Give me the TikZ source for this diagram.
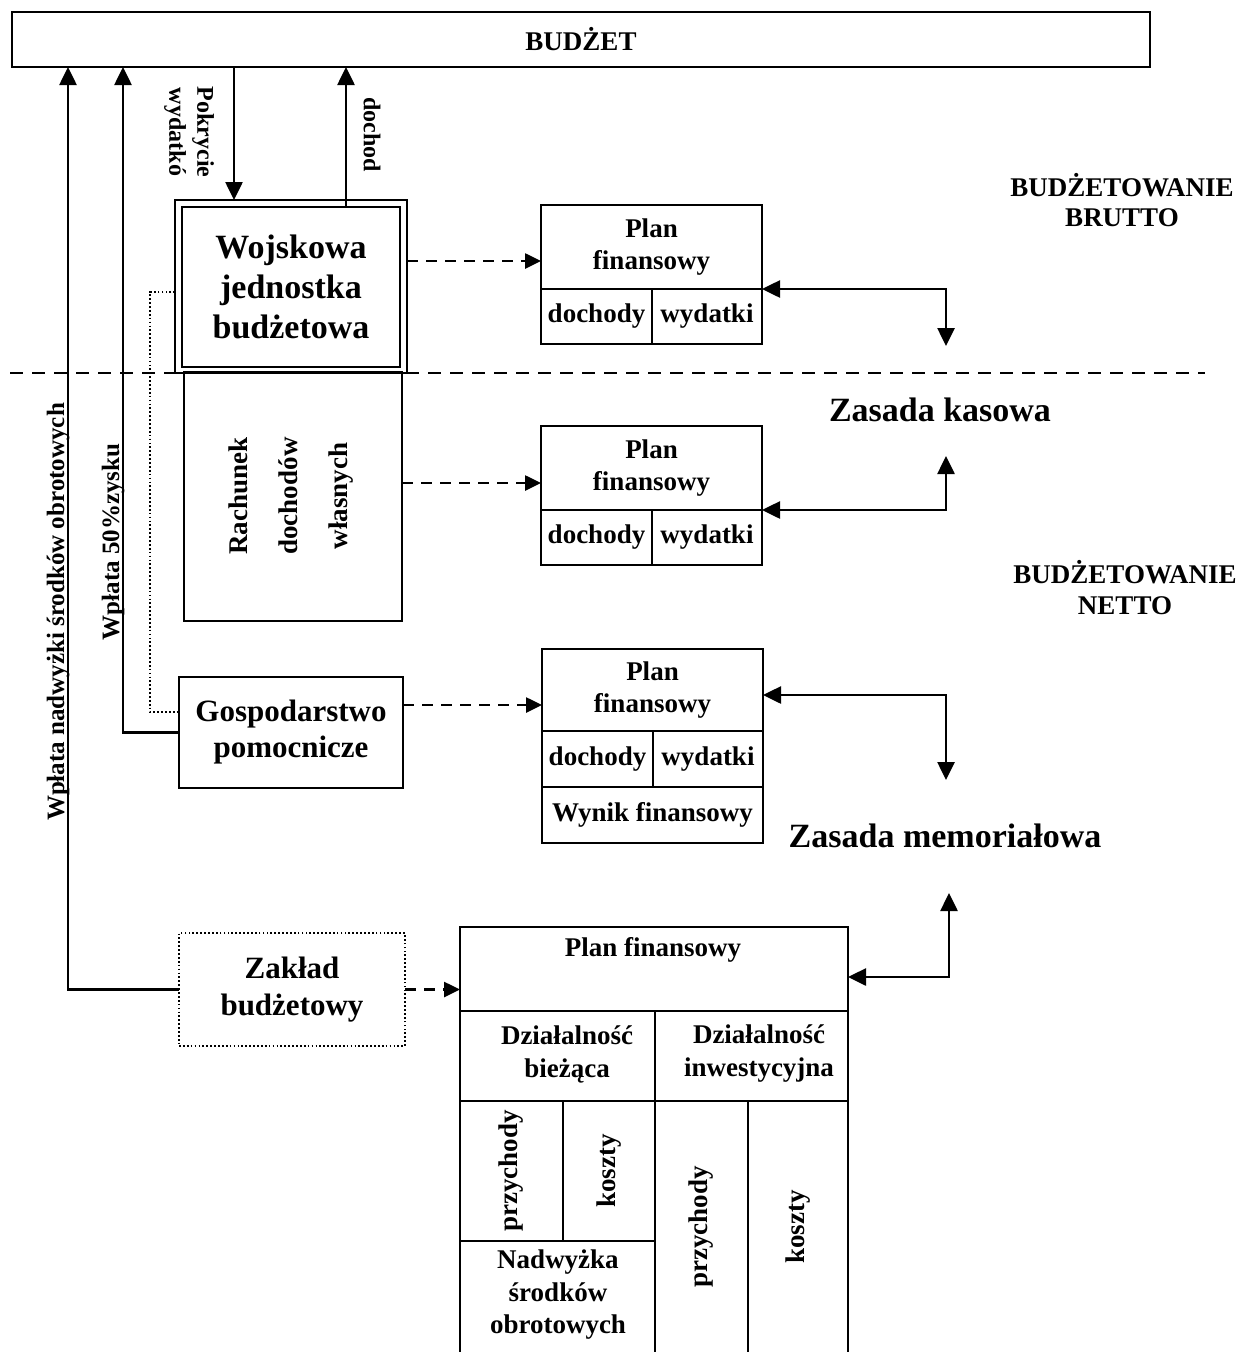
\documentclass[tikz,border=0pt]{standalone}
\usepackage{fontspec}
\setmainfont{Liberation Serif}
\usetikzlibrary{arrows.meta,calc}
\begin{document}
\begin{tikzpicture}[x=1pt,y=-1pt,
  fs/.style n args={2}{font=\bfseries\fontsize{#1}{#2}\selectfont},
  box/.style={draw,line width=2.6pt,inner sep=0pt,outer sep=0pt,align=center,anchor=north west},
  lbl/.style={inner sep=0pt,outer sep=0pt,align=center},
  sarr/.style={line width=2.6pt,-{Triangle[width=17pt,length=18pt]}},
  barr/.style={line width=2.6pt,{Triangle[width=17pt,length=18pt]}-{Triangle[width=17pt,length=18pt]}},
  darr/.style={line width=2.6pt,dash pattern=on 11pt off 8pt,-{Triangle[width=15pt,length=16pt]}},
  dotln/.style={line width=1.7pt,dash pattern=on 1.7pt off 2.2pt}
]
\useasboundingbox (0,0) rectangle (1249,1352);
\clip (0,0) rectangle (1249,1352);

% budget bar
\node[box,fs={27}{32},minimum width=1138pt,minimum height=55pt] (bud) at (12,12) {BUDŻET};

% military budget unit (double frame)
\node[box,minimum width=232pt,minimum height=173pt] (wj) at (175,200) {};
\node[box,fs={34}{40},minimum width=218pt,minimum height=160pt] (wji) at (182,207) {Wojskowa\\jednostka\\budżetowa};

% own income account
\node[box,minimum width=218pt,minimum height=249pt] (rdw) at (184,372) {};
\node[lbl,fs={27}{50},rotate=90] (rdwt) at (291,496) {Rachunek\\dochodów\\własnych};

% auxiliary holding
\node[box,fs={31}{36},minimum width=224pt,minimum height=111pt] (gp) at (179,677) {Gospodarstwo\\pomocnicze};

% budget establishment
\node[box,dotln,fs={31}{37},minimum width=226pt,minimum height=113pt] (zk) at (179,933) {Zakład\\budżetowy};

% financial plans
\node[box,fs={27}{32},minimum width=221pt,minimum height=84pt] (p1t) at (541,205) {Plan\\finansowy};
\node[box,fs={27}{32},minimum width=111pt,minimum height=55pt] (p1a) at (541,289) {dochody};
\node[box,fs={27}{32},minimum width=110pt,minimum height=55pt] (p1b) at (652,289) {wydatki};

\node[box,fs={27}{32},minimum width=221pt,minimum height=84pt] (p2t) at (541,426) {Plan\\finansowy};
\node[box,fs={27}{32},minimum width=111pt,minimum height=55pt] (p2a) at (541,510) {dochody};
\node[box,fs={27}{32},minimum width=110pt,minimum height=55pt] (p2b) at (652,510) {wydatki};

\node[box,fs={27}{32},minimum width=221pt,minimum height=82pt] (p3t) at (542,649) {Plan\\finansowy};
\node[box,fs={27}{32},minimum width=111pt,minimum height=56pt] (p3a) at (542,731) {dochody};
\node[box,fs={27}{32},minimum width=110pt,minimum height=56pt] (p3b) at (653,731) {wydatki};
\node[box,fs={27}{32},minimum width=221pt,minimum height=56pt] (p3c) at (542,787) {Wynik finansowy};

\node[box,minimum width=388pt,minimum height=84pt] (p4t) at (460,927) {};
\node[lbl,fs={27}{32}] (p4tt) at (653,950) {Plan finansowy};
\node[box,minimum width=195pt,minimum height=90pt] (p4l) at (460,1011) {};
\node[box,minimum width=193pt,minimum height=90pt] (p4r) at (655,1011) {};
\node[lbl,fs={27}{33}] (p4lt) at (567,1054) {Działalność\\bieżąca};
\node[lbl,fs={27}{33}] (p4rt) at (759,1054) {Działalność\\inwestycyjna};
\node[box,minimum width=103pt,minimum height=140pt] (p4la) at (460,1101) {};
\node[box,minimum width=92pt,minimum height=140pt] (p4lb) at (563,1101) {};
\node[box,minimum width=195pt,minimum height=130pt] (p4lc) at (460,1241) {};
\node[box,minimum width=93pt,minimum height=270pt] (p4ra) at (655,1101) {};
\node[box,minimum width=100pt,minimum height=270pt] (p4rb) at (748,1101) {};
\node[lbl,fs={27}{32},rotate=90] (t1) at (p4la.center) {przychody};
\node[lbl,fs={27}{32},rotate=90] (t2) at (p4lb.center) {koszty};
\node[lbl,fs={27}{32},rotate=90] (t3) at (701,1227) {przychody};
\node[lbl,fs={27}{32},rotate=90] (t4) at (798,1227) {koszty};
\node[lbl,fs={27}{32.5}] (t5) at (558,1295) {Nadwyżka\\środków\\obrotowych};

% section labels
\node[lbl,fs={27}{30}] (brutto) at (1122,200) {BUDŻETOWANIE\\BRUTTO};
\node[lbl,fs={27}{31}] (netto) at (1125,588) {BUDŻETOWANIE\\NETTO};
\node[lbl,fs={34}{40}] (kas) at (940,410) {Zasada kasowa};
\node[lbl,fs={34}{40}] (mem) at (945,836) {Zasada memoriałowa};

% boundary between gross and net budgeting
\coordinate (dl) at (10,373);
\coordinate (dr) at (1205,373);
\draw[line width=2.2pt,dash pattern=on 13pt off 9pt] (dl) -- (dr);

% flows to and from the budget
\draw[sarr] ([xshift=222pt]bud.south west) -- ([xshift=222pt]bud.south west |- wj.north);
\draw[sarr] ([xshift=334pt]bud.south west |- wji.north) -- ([xshift=334pt]bud.south west);
\node[lbl,fs={24}{28},rotate=-90] (pokr) at (189,132) {Pokrycie\\wydatkó};
\node[lbl,fs={24}{28},rotate=-90] (doch) at (372,135) {dochod};

\draw[sarr] (gp.west) -| ([xshift=111pt]bud.south west);
\draw[sarr] (zk.west) -| ([xshift=56pt]bud.south west);
\node[lbl,fs={25}{30},rotate=90,anchor=base] (w1) at (64,612) {Wpłata nadwyżki środków obrotowych};
\node[lbl,fs={25}{30},rotate=90,anchor=base] (w2) at (119,542) {Wpłata 50\%zysku};

% dotted link between the unit and its auxiliary holding
\draw[dotln] ([yshift=-5.5pt]wj.west) -- ++(-25,0) |- ([yshift=20.5pt]gp.west);

% units to their financial plans
\draw[darr] ([yshift=25.5pt]wj.east) -- ([yshift=25.5pt]wj.east -| p1t.west);
\draw[darr] ([yshift=13.5pt]rdw.east) -- ([yshift=13.5pt]rdw.east -| p2t.west);
\draw[darr] ([yshift=27.5pt]gp.east) -- ([yshift=27.5pt]gp.east -| p3t.west);
\draw[darr] (zk.east) -- (zk.east -| p4t.west);

% plans to accounting principles
\coordinate (k1) at (946,346);
\coordinate (k2) at (946,456);
\coordinate (k3) at (946,780);
\coordinate (k4) at (949,893);
\draw[barr] (p1t.south east) -| (k1);
\draw[barr] (p2t.south east) -| (k2);
\draw[barr] ([yshift=-5pt]p3t.east) -| (k3);
\draw[barr] ([yshift=-8pt]p4t.east) -| (k4);
\end{tikzpicture}
\end{document}
